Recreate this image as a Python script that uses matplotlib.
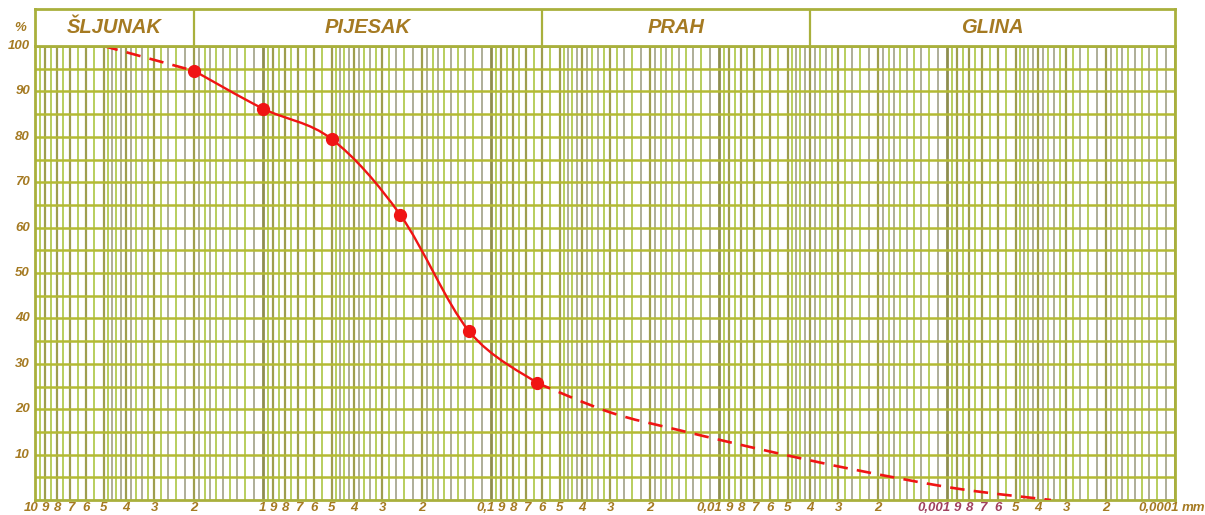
#! /usr/bin/python3

# Granulometric curve (grain size distribution) on log paper

import numpy as np
import matplotlib
matplotlib.use('Agg')
import matplotlib.pyplot as plt
from matplotlib.path import Path
from matplotlib.patches import PathPatch
from matplotlib.transforms import blended_transform_factory, offset_copy

##############################################################################

# measured points (sieve size mm, % passing)
sizes_mm = [2, 1, 0.5, 0.25, 0.125, 0.063]
passing = [94.5, 86.2, 79.5, 62.8, 37.2, 25.8]

# dashed extrapolation, coarse side and fine side
coarse_mm = [5, 2]
coarse_pct = [100, 94.5]
fine_mm = [0.063, 0.03, 0.015, 0.006, 0.0025, 0.0009, 0.00035]
fine_pct = [25.8, 19.3, 15.4, 10.7, 6.6, 2.5, 0.0]

# soil classes and their limits (mm)
classes = ['ŠLJUNAK', 'PIJESAK', 'PRAH', 'GLINA']
limits_mm = [10, 2, 0.06, 0.004, 0.0001]

decades = [10, 1, 0.1, 0.01, 0.001]
decade_labels = ['10', '1', '0,1', '0,01', '0,001']
digit_labels = ['9', '8', '7', '6', '5', '4', '3', '2']
y_labels = [10, 20, 30, 40, 50, 60, 70, 80, 90, 100]

##############################################################################

GOLD = '#a57a22'
MAUVE = '#a0405e'
FRAME = '#a9b03c'
RED = '#f01414'
FONT = 'Liberation Sans'
LSIZE = 9.5


def smooth_path(d, p):
    # catmull-rom through the points, as bezier segments in log-x space
    pts = np.column_stack([np.log10(d), np.asarray(p, float)])
    n = len(pts)
    verts = [pts[0]]
    codes = [Path.MOVETO]
    for i in range(n - 1):
        p0 = pts[i - 1] if i > 0 else pts[i]
        p3 = pts[i + 2] if i + 2 < n else pts[i + 1]
        c1 = pts[i] + (pts[i + 1] - p0) / 6.0
        c2 = pts[i + 1] - (p3 - pts[i]) / 6.0
        verts += [c1, c2, pts[i + 1]]
        codes += [Path.CURVE4] * 3
    verts = np.array(verts)
    verts[:, 0] = 10 ** verts[:, 0]
    return Path(verts, codes)


W, H = 1205, 515
fig = plt.figure(figsize=(W / 100, H / 100), dpi=100)
x0, x1, yb, yt, yh = 35, 1175, 500, 46, 9
ax = fig.add_axes([x0 / W, 1 - yb / H, (x1 - x0) / W, (yb - yt) / H])
hd = fig.add_axes([x0 / W, 1 - yt / H, (x1 - x0) / W, (yt - yh) / H])

for a in (ax, hd):
    a.set_xscale('log')
    a.set_xlim(10, 1e-4)
    a.set_xticks([])
    a.set_yticks([])
    a.minorticks_off()
    for s in a.spines.values():
        s.set_color(FRAME)
        s.set_linewidth(2)
ax.set_ylim(0, 100)
hd.set_ylim(0, 1)

# vertical grid
mant = list(np.arange(1.0, 2.0, 0.1)) + list(np.arange(2.0, 5.0, 0.2)) + \
    list(np.arange(5.0, 10.0, 0.5))
for dec in [1e-4, 1e-3, 1e-2, 1e-1, 1]:
    for j, m in enumerate(mant):
        v = m * dec
        if abs(m - 1.0) < 1e-6:
            c, lw = '#8e8e4e', 2.0
        elif abs(m - round(m)) < 1e-6:
            c, lw = '#9e9e4e', 1.6
        elif j % 2 == 0:
            c, lw = '#b2ca52', 1.3
        else:
            c, lw = '#a8a890', 1.3
        ax.axvline(v, color=c, lw=lw, zorder=1)

# horizontal grid
ax.hlines(np.arange(5, 100, 5), 1e-4, 10, colors='#b4ba34', lw=1.8, zorder=2)

# header
for lim in limits_mm[1:-1]:
    hd.axvline(lim, color=FRAME, lw=1.6)
for k, name in enumerate(classes):
    xc = np.sqrt(limits_mm[k] * limits_mm[k + 1])
    hd.text(xc, 0.5, name, ha='center', va='center', fontsize=14.5,
            fontweight='bold', fontstyle='italic', color=GOLD, family=FONT)

# curve
solid = PathPatch(smooth_path(sizes_mm, passing), fill=False, edgecolor=RED,
                  lw=1.7, zorder=5, capstyle='round')
ax.add_patch(solid)
ax.plot(coarse_mm, coarse_pct, color=RED, lw=1.9, dashes=(5.5, 3.5), zorder=5)
dash_fine = PathPatch(smooth_path(fine_mm, fine_pct), fill=False,
                      edgecolor=RED, lw=1.9, zorder=5,
                      linestyle=(0, (5.5, 3.5)))
ax.add_patch(dash_fine)
ax.plot(sizes_mm, passing, 'o', color=RED, ms=8.5, zorder=6)

# y labels
ylt = offset_copy(ax.transAxes, fig=fig, x=-5, y=0, units='dots')
for v in y_labels:
    ax.text(0, v / 100, str(v), transform=ylt, ha='right', va='center',
            fontsize=LSIZE, fontweight='bold', fontstyle='italic', color=GOLD,
            family=FONT)
ax.text(-0.013, 1.04, '%', transform=ax.transAxes, ha='center',
        va='center', fontsize=LSIZE, fontweight='bold', fontstyle='italic',
        color=GOLD, family=FONT)

# x labels
bt = blended_transform_factory(ax.transData, ax.transAxes)
dig_t = offset_copy(bt, fig=fig, x=0, y=-2, units='dots')
dec_t = offset_copy(bt, fig=fig, x=3.5, y=-2, units='dots')
kw = dict(va='top', fontsize=LSIZE, fontweight='bold', fontstyle='italic',
          family=FONT)
for dec, lab in zip(decades, decade_labels):
    mauve = (dec == 0.001)
    ax.text(dec, 0, lab, transform=dec_t, ha='right',
            color=MAUVE if mauve else GOLD, **kw)
    for lab2 in digit_labels:
        m = int(lab2)
        col = MAUVE if (mauve and m >= 6) else GOLD
        ax.text(m * dec / 10, 0, lab2, transform=dig_t, ha='center',
                color=col, **kw)
ax.text(1e-4, 0, '0,0001', transform=dec_t, ha='right', color=GOLD, **kw)
mm_t = offset_copy(bt, fig=fig, x=7, y=-2, units='dots')
ax.text(1e-4, 0, 'mm', transform=mm_t, ha='left', color=GOLD, **kw)

fig.savefig('out.png', dpi=100)
